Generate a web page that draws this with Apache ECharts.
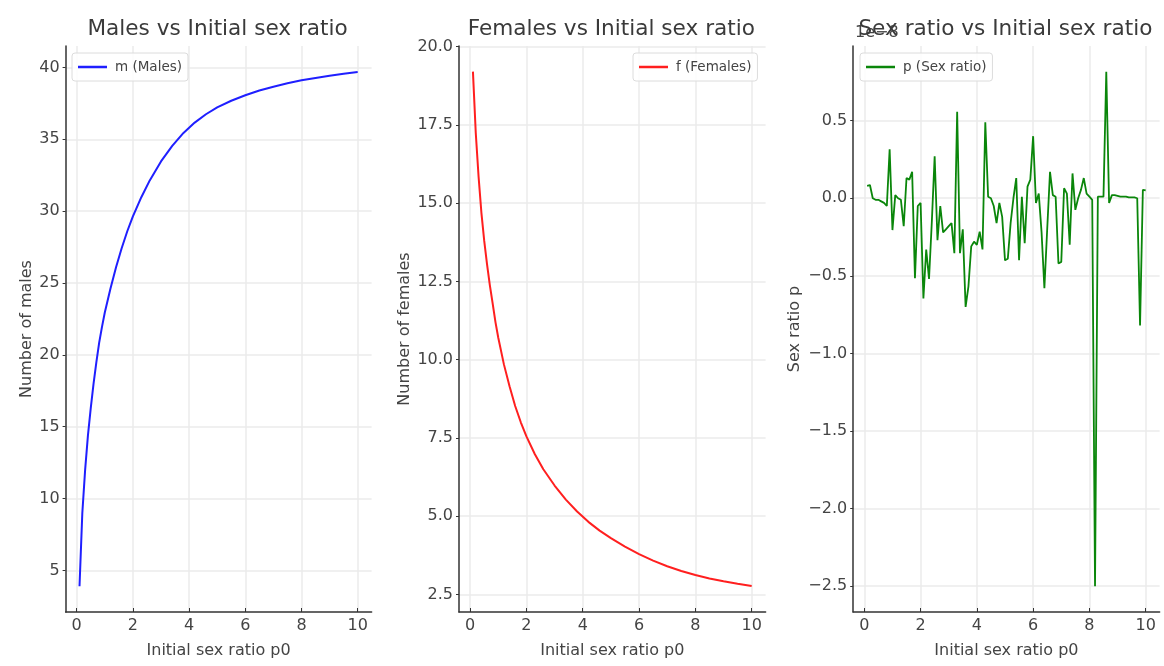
<!DOCTYPE html>
<html>
<head>
<meta charset="utf-8">
<script src="https://cdn.jsdelivr.net/npm/echarts@6/dist/echarts.min.js"></script>
<style>
html,body{margin:0;padding:0;background:#fff;}
#c{width:1164px;height:666px;}
</style>
</head>
<body>
<div id="c"></div>
<script>
// ---- data ----
const maleX = [0.1,0.2,0.3,0.4,0.5,0.6,0.7,0.8,0.9,1.0,1.2,1.4,1.6,1.8,2.0,2.3,2.6,3.0,3.4,3.8,4.2,4.6,5.0,5.5,6.0,6.5,7.0,7.5,8.0,8.5,9.0,9.5,10];
const maleY = [3.9,9.0,12.0,14.4,16.3,18.0,19.5,20.85,21.95,22.95,24.6,26.1,27.42,28.6,29.64,30.97,32.14,33.46,34.54,35.44,36.16,36.74,37.22,37.68,38.06,38.39,38.66,38.9,39.1,39.27,39.42,39.56,39.68];

const femaleX = [0.1,0.2,0.3,0.4,0.5,0.6,0.7,0.8,0.9,1.0,1.2,1.4,1.6,1.8,2.0,2.3,2.6,3.0,3.4,3.8,4.2,4.6,5.0,5.5,6.0,6.5,7.0,7.5,8.0,8.5,9.0,9.5,10];
const femaleY = [19.2,17.25,15.85,14.7,13.8,13.05,12.38,11.8,11.2,10.7,9.85,9.15,8.52,8.0,7.55,6.98,6.5,5.98,5.53,5.15,4.82,4.54,4.3,4.03,3.79,3.58,3.4,3.25,3.12,3.01,2.92,2.84,2.77];

const ratioX = [
  0.1,0.2,0.3,0.4,0.5,0.6,0.7,0.8,0.9,1.0,
  1.1,1.2,1.3,1.4,1.5,1.6,1.7,1.8,1.9,2.0,
  2.1,2.2,2.3,2.4,2.5,2.6,2.7,2.8,2.9,3.0,
  3.1,3.2,3.3,3.4,3.5,3.6,3.7,3.8,3.9,4.0,
  4.1,4.2,4.3,4.4,4.5,4.6,4.7,4.8,4.9,5.0,
  5.1,5.2,5.3,5.4,5.5,5.6,5.7,5.8,5.9,6.0,
  6.1,6.2,6.3,6.4,6.5,6.6,6.7,6.8,6.9,7.0,
  7.1,7.2,7.3,7.4,7.5,7.6,7.7,7.8,7.9,8.0,
  8.1,8.2,8.3,8.4,8.5,8.6,8.7,8.8,8.9,9.0,
  9.1,9.2,9.3,9.4,9.5,9.6,9.7,9.8,9.9,10.0
];
// sex ratio values, in units of 1e-8
const ratioY = [
  0.08,0.085,0.0,-0.01,-0.01,-0.02,-0.03,-0.05,0.315,-0.205,
  0.02,0.0,-0.01,-0.18,0.13,0.12,0.17,-0.515,-0.05,-0.03,
  -0.645,-0.33,-0.52,-0.15,0.27,-0.27,-0.05,-0.22,-0.2,-0.18,
  -0.16,-0.354,0.558,-0.354,-0.2,-0.7,-0.57,-0.31,-0.28,-0.3,
  -0.215,-0.33,0.49,0.01,0.0,-0.05,-0.16,-0.03,-0.12,-0.4,
  -0.39,-0.16,0.0,0.13,-0.4,0.01,-0.29,0.075,0.12,0.4,
  -0.03,0.03,-0.22,-0.58,-0.2,0.17,0.02,0.01,-0.42,-0.41,
  0.065,0.03,-0.3,0.16,-0.075,0.0,0.054,0.13,0.03,0.01,
  -0.01,-2.5,0.01,0.01,0.01,0.815,-0.03,0.02,0.02,0.015,
  0.01,0.01,0.01,0.005,0.005,0.005,0.0,-0.82,0.054,0.05
];

const xTicks      = [0, 2, 4, 6, 8, 10];
const maleTicks   = [5, 10, 15, 20, 25, 30, 35, 40];
const femaleTicks = [2.5, 5, 7.5, 10, 12.5, 15, 17.5, 20];
const ratioTicks  = [-2.5, -2, -1.5, -1, -0.5, 0, 0.5];

const titles = ['Males vs Initial sex ratio', 'Females vs Initial sex ratio', 'Sex ratio vs Initial sex ratio'];
const xName = 'Initial sex ratio p0';
const yNames = ['Number of males', 'Number of females', 'Sex ratio p'];
const seriesNames = ['m (Males)', 'f (Females)', 'p (Sex ratio)'];

// ---- layout / style ----
const FONT = 'DejaVu Sans';
const TXT = '#444';
const GRID = [
  {left: 65.6, width: 306},
  {left: 459, width: 306.6},
  {left: 853.2, width: 306.4}
];
const TOP = 46, HEIGHT = 566;
const COLORS = ['#1f1fff', '#ff1f1f', '#0a860a'];

function xAxisCfg(i) {
  return {
    type: 'value', gridIndex: i, min: -0.395, max: 10.495,
    name: xName, nameLocation: 'middle', nameGap: 31,
    nameTextStyle: {fontFamily: FONT, fontSize: 16, color: TXT},
    axisLine: {show: true, onZero: false, lineStyle: {color: '#333', width: 1.5}},
    axisTick: {show: true, inside: true, length: 4, customValues: xTicks, lineStyle: {color: '#333', width: 1}},
    axisLabel: {show: true, customValues: xTicks, margin: 6, fontFamily: FONT, fontSize: 16, color: TXT},
    splitLine: {show: true, lineStyle: {color: '#ebebeb', width: 1.5}}
  };
}
function yAxisCfg(i, min, max, ticks, fmt, gap) {
  return {
    type: 'value', gridIndex: i, min: min, max: max,
    name: yNames[i], nameLocation: 'middle', nameGap: gap,
    nameTextStyle: {fontFamily: FONT, fontSize: 16, color: TXT},
    axisLine: {show: true, onZero: false, lineStyle: {color: '#333', width: 1.5}},
    axisTick: {show: true, inside: false, length: 3, customValues: ticks, lineStyle: {color: '#333', width: 1}},
    axisLabel: {show: true, customValues: ticks, margin: 6, fontFamily: FONT, fontSize: 16, color: TXT, formatter: fmt},
    splitLine: {show: true, lineStyle: {color: '#ebebeb', width: 1.5}}
  };
}
function legendCfg(i, left) {
  return {
    data: [seriesNames[i]], left: left, top: 53, orient: 'horizontal',
    padding: [7, 6], icon: 'rect', itemWidth: 29, itemHeight: 2.5, itemGap: 6,
    backgroundColor: 'rgba(255,255,255,0.85)', borderColor: '#dcdcdc', borderWidth: 1, borderRadius: 3,
    textStyle: {fontFamily: FONT, fontSize: 13.5, color: TXT, padding: [0, 0, 0, 3]},
    selectedMode: false
  };
}
const pair = (xs, ys) => xs.map((x, k) => [x, ys[k]]);

const option = {
  backgroundColor: '#fff',
  animation: false,
  title: titles.map((t, i) => ({
    text: t, left: GRID[i].left + GRID[i].width / 2 - 1, textAlign: 'center', top: 18, padding: 0,
    textStyle: {fontFamily: FONT, fontSize: 21.6, fontWeight: 'normal', color: '#3a3a3a'}
  })),
  grid: GRID.map(g => ({left: g.left, width: g.width, top: TOP, height: HEIGHT, containLabel: false})),
  xAxis: [xAxisCfg(0), xAxisCfg(1), xAxisCfg(2)],
  yAxis: [
    yAxisCfg(0, 2.11, 41.49, maleTicks, v => String(v), 31),
    yAxisCfg(1, 1.94, 20.02, femaleTicks, v => v.toFixed(1), 46),
    yAxisCfg(2, -2.666, 0.981, ratioTicks, v => v.toFixed(1).replace('-', '\u2212'), 50)
  ],
  legend: [legendCfg(0, 72), legendCfg(1, 633), legendCfg(2, 860)],
  series: [
    {name: seriesNames[0], type: 'line', xAxisIndex: 0, yAxisIndex: 0, data: pair(maleX, maleY),
     symbol: 'none', smooth: false, lineStyle: {color: COLORS[0], width: 2}, itemStyle: {color: COLORS[0]}},
    {name: seriesNames[1], type: 'line', xAxisIndex: 1, yAxisIndex: 1, data: pair(femaleX, femaleY),
     symbol: 'none', smooth: false, lineStyle: {color: COLORS[1], width: 2}, itemStyle: {color: COLORS[1]}},
    {name: seriesNames[2], type: 'line', xAxisIndex: 2, yAxisIndex: 2, data: pair(ratioX, ratioY),
     symbol: 'none', smooth: false, lineStyle: {color: COLORS[2], width: 1.8}, itemStyle: {color: COLORS[2]}}
  ],
  graphic: [{
    type: 'text', left: 855, top: 25, z: 1,
    style: {text: '1e\u22128', fontFamily: FONT, fontSize: 16, fill: TXT}
  }]
};

const chart = echarts.init(document.getElementById('c'), null, {renderer: 'canvas'});
chart.setOption(option);
</script>
</body>
</html>
